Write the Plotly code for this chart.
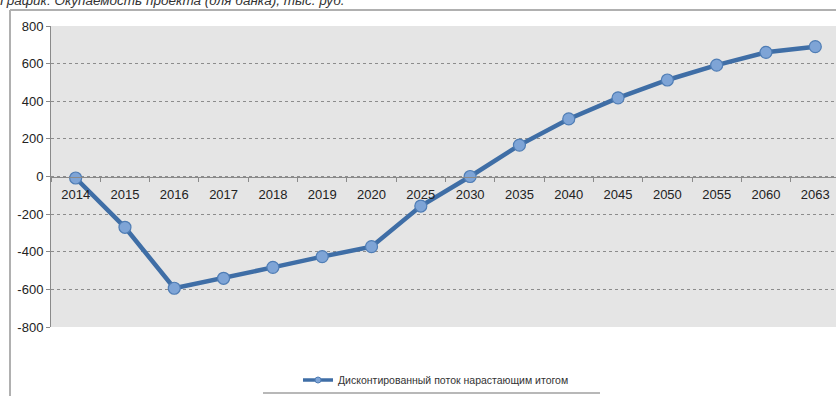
import plotly.graph_objects as go

years = ["2014", "2015", "2016", "2017", "2018", "2019", "2020", "2025",
         "2030", "2035", "2040", "2045", "2050", "2055", "2060", "2063"]
cumulative_flow = [-8, -270, -594, -541, -483, -426, -373, -157,
                   0, 167, 306, 418, 513, 592, 660, 690]
y_tick_vals = [-800, -600, -400, -200, 0, 200, 400, 600, 800]
y_tick_text = ["-800", "-600", "-400", "-200", "0", "200", "400", "600", "800"]
series_name = "Дисконтированный поток нарастающим итогом"
title_text = "График: Окупаемость проекта (для банка), тыс. руб."

W, H = 836, 396
ML, MR, MT, MB = 51, 0, 26, 69
pw = W - ML - MR
ph = H - MT - MB

def px_x(x):
    return (x - ML) / pw

def px_y(y):
    return (H - MB - y) / ph

LINE_COLOR = "#3f6ea6"
MARKER_FILL = "#7ea4d6"
MARKER_EDGE = "#4f7db5"

fig = go.Figure()
fig.add_trace(go.Scatter(
    x=years, y=cumulative_flow, mode="lines+markers", name=series_name,
    showlegend=False,
    line=dict(color=LINE_COLOR, width=4.5),
    marker=dict(size=12, color=MARKER_FILL, line=dict(color=MARKER_EDGE, width=1.2)),
))
# legend entry with a smaller sample marker
fig.add_trace(go.Scatter(
    x=[None], y=[None], mode="lines+markers", name=series_name,
    line=dict(color=LINE_COLOR, width=3.5),
    marker=dict(size=6, color=MARKER_FILL, line=dict(color=MARKER_EDGE, width=1)),
))

fig.update_layout(
    width=W, height=H,
    margin=dict(l=ML, r=MR, t=MT, b=MB),
    paper_bgcolor="white",
    plot_bgcolor="#e5e5e5",
    font=dict(family="Liberation Sans, Arial", size=13, color="#222"),
    title=dict(text=title_text, x=0.0, xref="container", xanchor="left",
               y=1.0, yref="container", yanchor="middle",
               font=dict(size=13.5, color="#333", style="italic")),
    showlegend=True,
    legend=dict(orientation="h", x=px_x(436), xanchor="center",
                y=px_y(380), yanchor="middle", font=dict(size=10.5, color="#333"),
                bgcolor="rgba(0,0,0,0)"),
    xaxis=dict(type="category", range=[-0.5, 15.42], anchor="free", position=0.5,
               showline=True, linecolor="#8a8a8a", linewidth=1,
               ticks="outside", ticklen=4, tickcolor="#8a8a8a", tickson="boundaries",
               ticklabelstandoff=6,
               showgrid=False, zeroline=False, tickfont=dict(size=13, color="#222")),
    yaxis=dict(range=[-800, 800], tickvals=y_tick_vals, ticktext=y_tick_text,
               showline=True, linecolor="#8a8a8a", linewidth=1,
               ticks="outside", ticklen=4, tickcolor="#8a8a8a",
               showgrid=True, gridcolor="#8c8c8c", gridwidth=1, griddash="dot",
               zeroline=False, tickfont=dict(size=13, color="#222")),
    shapes=[
        dict(type="line", xref="paper", yref="paper",
             x0=px_x(10), x1=px_x(10), y0=px_y(10), y1=px_y(400),
             line=dict(color="#b0b0b0", width=2)),
        dict(type="line", xref="paper", yref="paper",
             x0=px_x(10), x1=px_x(840), y0=px_y(10), y1=px_y(10),
             line=dict(color="#b0b0b0", width=2)),
        dict(type="line", xref="paper", yref="paper",
             x0=px_x(263), x1=px_x(600), y0=px_y(393), y1=px_y(393),
             line=dict(color="#a0a0a0", width=1.5)),
    ],
)

fig.write_html("out.html", config={"displayModeBar": False},
               post_script="document.body.style.margin='0';document.body.style.overflow='hidden';")
